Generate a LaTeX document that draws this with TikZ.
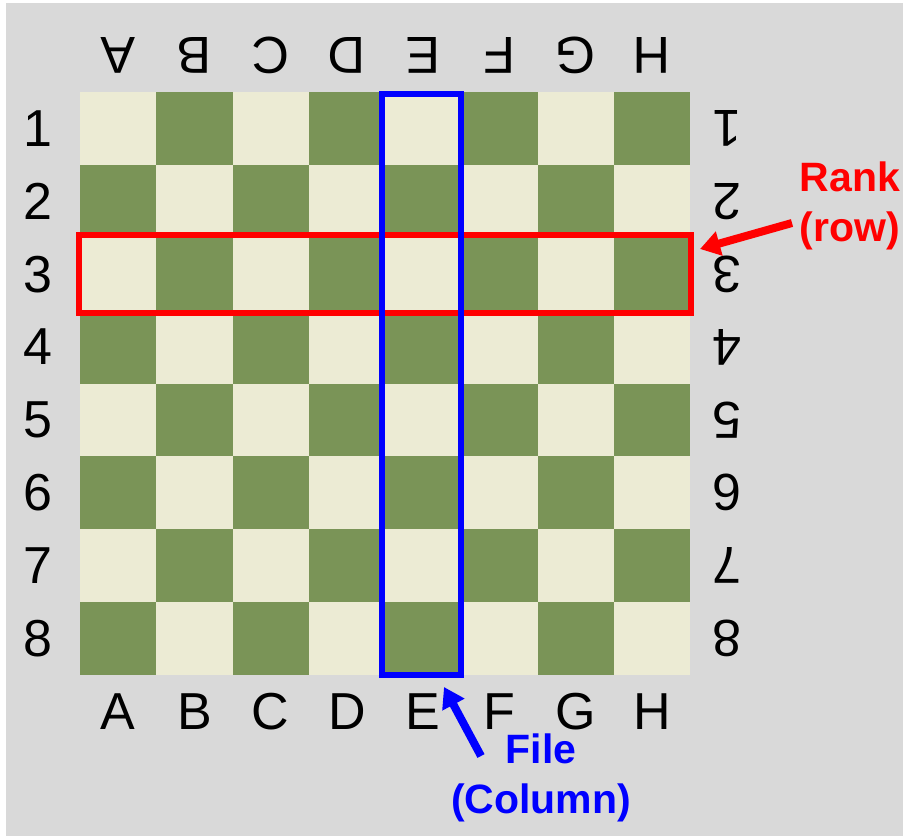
\documentclass[tikz,border=0pt]{standalone}
\usepackage{fontspec}
\setmainfont{Liberation Sans}
\usepackage{tikz}
\usepackage{xcolor}
\usetikzlibrary{arrows.meta}
\definecolor{lightsq}{HTML}{ECEBD4}
\definecolor{darksq}{HTML}{7A9457}
\definecolor{bggray}{HTML}{D9D9D9}
\tikzset{
  boardlbl/.style={inner sep=0pt, font=\fontsize{52}{52}\selectfont},
  notelbl/.style={inner sep=0pt, align=center, font=\bfseries\fontsize{41}{50}\selectfont},
  bigarrow/.style={line width=8pt, -{Triangle[length=20pt,width=24pt]}}
}
\begin{document}
\begin{tikzpicture}[x=1pt,y=-1pt]
\useasboundingbox (0,0) rectangle (903,836);
\fill[white] (0,0) rectangle (903,836);
\fill[bggray] (6,3) rectangle (903,836);
% squares
\foreach \c in {0,...,7} {
  \foreach \r in {0,...,7} {
    \pgfmathtruncatemacro{\sqpar}{mod(\c+\r,2)}
    \ifnum\sqpar=0 \def\sqcol{lightsq}\else\def\sqcol{darksq}\fi
    \fill[\sqcol] (80+76.25*\c,92+72.875*\r) rectangle (80+76.25*\c+76.25,92+72.875*\r+72.875);
  }
}
% files and ranks
\foreach \f [count=\i from 0] in {A,B,C,D,E,F,G,H} {
  \node[boardlbl,rotate=180] (top\f) at (118.1+76.25*\i,55) {\f};
  \node[boardlbl] (bot\f) at (118.1+76.25*\i,712) {\f};
}
\foreach \n [count=\i from 0] in {1,...,8} {
  \node[boardlbl] (left\n) at (38,128.4+72.875*\i) {\n};
  \node[boardlbl,rotate=180] (right\n) at (727,128.4+72.875*\i) {\n};
}
% highlights
\draw[red,line width=6pt] (79,235) rectangle (691,313);
\draw[blue,line width=6pt] (382,94) rectangle (461,675);
% notes
\node[notelbl,red] (rank) at (850,206) {Rank\\(row)};
\node[notelbl,blue] (file) at (541,778) {File\\(Column)};
\coordinate (ranktail) at (792,223);
\coordinate (ranktip) at (700,249);
\coordinate (filetail) at (481,756);
\coordinate (filetip) at (444,687);
\draw[bigarrow,red] (ranktail) -- (ranktip);
\draw[bigarrow,blue] (filetail) -- (filetip);
\end{tikzpicture}
\end{document}
